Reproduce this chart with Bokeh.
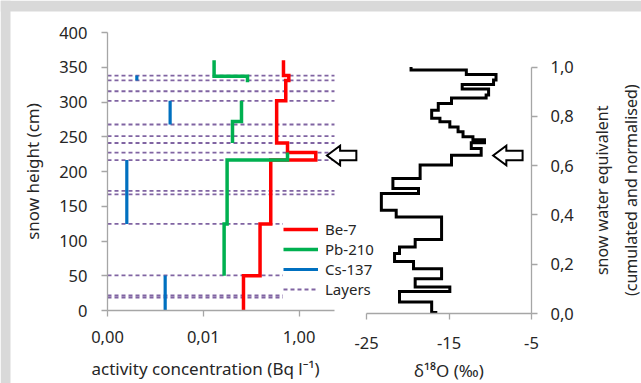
import math
from bokeh.plotting import figure
from bokeh.models import (Range1d, LinearScale, LinearAxis, FixedTicker,
                          CustomJSTickFormatter, Legend, LegendItem, Label,
                          BoxAnnotation)
from bokeh.embed import file_html
from bokeh.resources import INLINE

# ---------------- data ----------------
# Be-7 step profile: interval edges (cm) and activity (Bq/l)
be7_edges = [0, 50, 124.5, 216.5, 227.3, 241, 301.7, 331, 338, 360]
be7_vals = [0.069, 0.153, 0.256, 2.23, 0.573, 0.34, 0.527, 0.61, 0.472]

# Pb-210: three separate step segments
pb210_edges = [[50, 124.5, 216.5, 227.3], [241, 272, 301.7], [328.5, 337, 360]]
pb210_vals = [[0.0272, 0.0314, 0.573], [0.0407, 0.0627], [0.0837, 0.0168]]

# Cs-137: isolated vertical segments
cs137_edges = [[0, 50.4], [124.5, 216.5], [267.6, 301.7], [331, 338]]
cs137_vals = [0.0016, 0.000253, 0.00203, 0.00041]

# layer boundaries (cm)
layers_cm = [18.7, 21.6, 50.4, 124.5, 167, 172, 216.5, 227.3, 241, 251,
             267.6, 301.7, 315.5, 331, 338]

# delta-18O step profile vs cumulated normalised SWE
swe_edges = [0.000, 0.004, 0.047, 0.089, 0.107, 0.141, 0.182, 0.211, 0.243,
             0.270, 0.300, 0.391, 0.419, 0.487, 0.507, 0.548, 0.602, 0.642,
             0.669, 0.693, 0.705, 0.717, 0.737, 0.757, 0.778, 0.792, 0.825,
             0.852, 0.874, 0.886, 0.911, 0.929, 0.947, 0.970, 0.988, 1.000]
d18o_vals = [-16.6, -17.1, -21.0, -14.9, -19.1, -15.9, -19.3, -21.6, -21.0,
             -19.1, -15.9, -21.4, -23.2, -18.7, -21.8, -18.5, -14.7, -11.1,
             -12.3, -10.7, -12.1, -13.3, -13.9, -14.9, -16.1, -17.1, -16.3,
             -14.7, -10.5, -10.2, -13.4, -9.6, -9.3, -12.9, -19.6]

# arrows (tip positions in delta-18O units, level in SWE)
arrow_tips_d18o = [-29.8, -9.65]
arrow_swe = 0.641

# ticks
height_ticks = [0, 50, 100, 150, 200, 250, 300, 350, 400]
activity_ticks = [0.0001, 0.01, 1.0]
activity_axis_end = 5.48
d18o_ticks = [-25, -15, -5]
swe_ticks = [0.0, 0.2, 0.4, 0.6, 0.8, 1.0]


def step_xy(edges, vals):
    xs, ys = [], []
    for i, v in enumerate(vals):
        xs += [v, v]
        ys += [edges[i], edges[i + 1]]
    return xs, ys


FONT = "Noto Sans"
TXT = "#262626"
AX = "#a6a6a6"
W, H = 641, 383
# screen geometry of the two panels (pixels)
X0, XR, Y0CM, CM_PX = 107, 531, 310, 0.695     # left axis x, right axis x, 0 cm row, px per cm
DEC_PX, D_PX, SWE0, SWE_PX = 47.9, 8.25, 313, 246.5

x_rng = Range1d(10 ** (-4 - X0 / DEC_PX), 10 ** (-4 + (W - X0) / DEC_PX))
y_rng = Range1d(-(H - Y0CM) / CM_PX, Y0CM / CM_PX)

p = figure(width=W, height=H, x_axis_type="log", x_range=x_rng, y_range=y_rng,
           output_backend="svg", toolbar_location=None,
           min_border_left=0, min_border_right=0,
           min_border_top=0, min_border_bottom=0)
p.extra_x_ranges = {"d18o": Range1d(-5 - XR / D_PX, -5 + (W - XR) / D_PX)}
p.extra_x_scales = {"d18o": LinearScale()}
p.extra_y_ranges = {"swe": Range1d(-(H - SWE0) / SWE_PX, SWE0 / SWE_PX)}
p.grid.visible = False
p.outline_line_color = None
p.background_fill_color = "white"
p.border_fill_color = "white"


def style_axis(ax, standoff, label_standoff):
    ax.axis_line_color = AX
    ax.axis_line_width = 1.3
    ax.major_tick_line_color = AX
    ax.major_tick_line_width = 1.3
    ax.major_tick_out = 6
    ax.major_tick_in = 0
    ax.minor_tick_line_color = None
    ax.major_label_text_font = FONT
    ax.major_label_text_font_size = "16.5px"
    ax.major_label_text_color = TXT
    ax.major_label_standoff = standoff
    ax.axis_label_text_font = FONT
    ax.axis_label_text_font_size = "17px"
    ax.axis_label_text_font_style = "normal"
    ax.axis_label_text_color = TXT
    ax.axis_label_standoff = label_standoff


# light grey page strips at top and left (drawn first, underneath)
p.add_layout(BoxAnnotation(left=x_rng.start, right=10 ** (-4 - (X0 - 10) / DEC_PX),
                           bottom=y_rng.start, top=y_rng.end,
                           fill_color="#d9d9d9", fill_alpha=1.0, line_color=None,
                           level="underlay"))
p.add_layout(BoxAnnotation(left=x_rng.start, right=x_rng.end,
                           bottom=(Y0CM - 11) / CM_PX, top=y_rng.end,
                           fill_color="#d9d9d9", fill_alpha=1.0, line_color=None,
                           level="underlay"))

# left y axis, fixed at the left edge of the activity panel
ya = p.yaxis[0]
ya.ticker = FixedTicker(ticks=height_ticks)
ya.bounds = (0, 400)
ya.fixed_location = activity_ticks[0]
ya.axis_label = "snow height (cm)"
style_axis(ya, 14, 12)

# left x axis (log), fixed at 0 cm
xa = p.xaxis[0]
xa.ticker = FixedTicker(ticks=activity_ticks)
xa.formatter = CustomJSTickFormatter(code="return tick.toFixed(2).replace('.', ',')")
xa.bounds = (activity_ticks[0], activity_axis_end)
xa.fixed_location = 0
style_axis(xa, 14, 8)

# left x-axis title
p.add_layout(Label(x=10 ** (-4 + (205 - X0) / DEC_PX), y=-(368 - Y0CM) / CM_PX,
                   text="activity concentration (Bq l\u207b\u00b9)",
                   text_align="center", text_baseline="middle",
                   text_font=FONT, text_font_size="17px", text_color=TXT))

# right x axis (delta 18O), fixed at SWE 0
xb = LinearAxis(x_range_name="d18o", y_range_name="swe",
                ticker=FixedTicker(ticks=d18o_ticks), bounds=(-25, -5),
                formatter=CustomJSTickFormatter(code="return tick.toFixed(0)"),
                fixed_location=0,
                axis_label="\u03b4\u00b9\u2078O (\u2030)")
style_axis(xb, 17, 7)
p.add_layout(xb, "below")

# right y axis (SWE), fixed at delta = -5
yb = LinearAxis(x_range_name="d18o", y_range_name="swe",
                ticker=FixedTicker(ticks=swe_ticks), bounds=(0, 1),
                fixed_location=-5,
                formatter=CustomJSTickFormatter(code="return tick.toFixed(1).replace('.', ',')"))
style_axis(yb, 13, 10)
p.add_layout(yb, "right")

# right axis title (reads bottom to top)
p.add_layout(Label(x=-5 + (616 - XR) / D_PX, y=0.5, x_range_name="d18o", y_range_name="swe",
                   text="snow water equivalent\n(cumulated and normalised)",
                   angle=math.pi / 2, text_align="center", text_baseline="middle",
                   text_font=FONT, text_font_size="16px", text_color=TXT,
                   text_line_height=1.35))

# ---------------- glyphs ----------------
n = len(layers_cm)
r_lay = p.segment(x0=[activity_ticks[0]] * n, x1=[activity_axis_end] * n,
                  y0=layers_cm, y1=layers_cm, line_color="#8064a2",
                  line_width=1.8, line_dash="4 3")

bx, by = step_xy(be7_edges, be7_vals)
r_be = p.line(bx, by, line_color="#ff0000", line_width=3.5, line_join="miter")

gxs, gys = [], []
for e, v in zip(pb210_edges, pb210_vals):
    a, b = step_xy(e, v)
    gxs.append(a)
    gys.append(b)
r_pb = p.multi_line(gxs, gys, line_color="#00b050", line_width=3.5, line_join="miter")

cxs = [[v, v] for v in cs137_vals]
cys = [list(e) for e in cs137_edges]
r_cs = p.multi_line(cxs, cys, line_color="#0070c0", line_width=3.2)

dx, dy = step_xy(swe_edges, d18o_vals)
p.line(dx, dy, line_color="black", line_width=3, line_join="miter",
       x_range_name="d18o", y_range_name="swe")

# arrows
axs, ays = [], []
hl, L, hh, sh = 1.6, 3.57, 0.040, 0.019
for t in arrow_tips_d18o:
    axs.append([t, t + hl, t + hl, t + L, t + L, t + hl, t + hl])
    ays.append([arrow_swe, arrow_swe + hh, arrow_swe + sh, arrow_swe + sh,
                arrow_swe - sh, arrow_swe - sh, arrow_swe - hh])
p.patches(axs, ays, fill_color="white", line_color="black", line_width=2,
          line_join="miter", x_range_name="d18o", y_range_name="swe")

legend = Legend(items=[LegendItem(label="Be-7", renderers=[r_be]),
                       LegendItem(label="Pb-210", renderers=[r_pb]),
                       LegendItem(label="Cs-137", renderers=[r_cs]),
                       LegendItem(label="Layers", renderers=[r_lay])],
                location=(283, 84), margin=0, padding=0, spacing=0,
                glyph_width=35, glyph_height=20, label_height=20,
                label_standoff=7, border_line_color=None,
                background_fill_color="white", background_fill_alpha=1.0,
                label_text_font=FONT, label_text_font_size="15px",
                label_text_color=TXT)
p.add_layout(legend)

open("out.html", "w").write(file_html(p, INLINE))
